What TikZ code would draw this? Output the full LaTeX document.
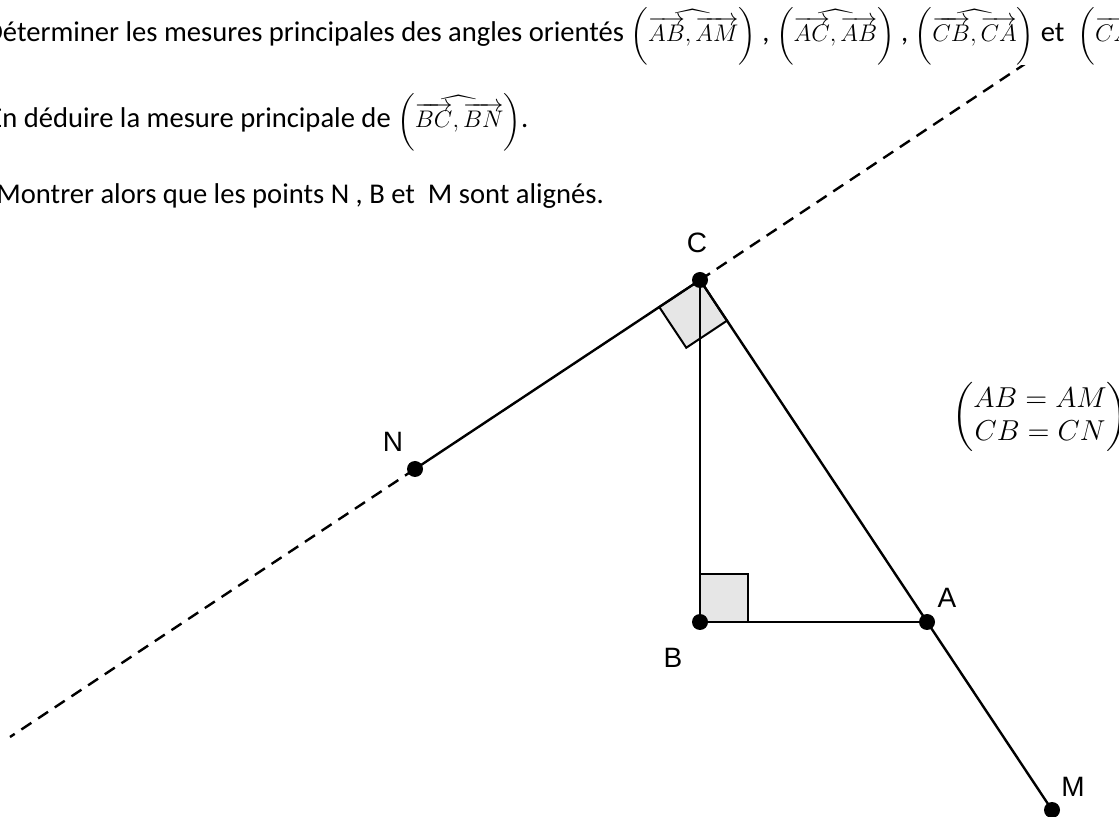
\documentclass[tikz,border=0pt]{standalone}
\usepackage{amsmath}
\usepackage{fontspec}
\setmainfont{Carlito}
\newfontfamily\labelfont{Liberation Sans}
\usepackage{tikz}
\usetikzlibrary{calc}
\definecolor{markx}{HTML}{E6E6E6}
\newcommand{\angor}[2]{{\fontsize{11.8}{14}\selectfont$\left(\widehat{\overrightarrow{#1},\overrightarrow{#2}}\right)$}}

\begin{document}
\begin{tikzpicture}[
  x=0.5pt, y=-0.5pt,
  seg/.style={line width=1.2pt, draw=black},
  ext/.style={line width=1.2pt, draw=black, dash pattern=on 6pt off 4pt},
  rmark/.style={draw=black, line width=1pt, fill=markx},
  dot/.style={circle, fill=black, inner sep=0pt, minimum size=8pt},
  lbl/.style={font=\labelfont\fontsize{14}{16}\selectfont, inner sep=0pt},
  txt/.style={anchor=base west, inner sep=0pt, font=\fontsize{14.3}{17}\selectfont},
]
\useasboundingbox (0,0) rectangle (1119,817);
\clip (0,0) rectangle (1119,817);

% points
\coordinate (C) at (700,280);
\coordinate (B) at (700,622);
\coordinate (A) at (927,622);
\coordinate (M) at (1052,810);
\coordinate (N) at (415,469);
\coordinate (endL) at (10,737);
\coordinate (endR) at (1043,52);

% right angle marks
\coordinate (Cu) at ($(C)!0.143!(N)$);
\coordinate (Cv) at ($(C)!0.119!(A)$);
\filldraw[rmark] (C) -- (Cu) -- ($(Cu)+(Cv)-(C)$) -- (Cv) -- cycle;
\filldraw[rmark] (B) -- ($(B)+(0,-48)$) -- ($(B)+(48,-48)$) -- ($(B)+(48,0)$) -- cycle;

% lines
\draw[ext] (N) -- (endL);
\draw[ext] (C) -- (endR);
\draw[seg] (N) -- (C);
\draw[seg] (C) -- (B);
\draw[seg] (B) -- (A);
\draw[seg] (C) -- (M);

% the statement
\node[txt, fill=white] (q1) at (-15,42) {Déterminer les mesures principales des angles orientés \angor{AB}{AM} ,\ \angor{AC}{AB} , \angor{CB}{CA} et\ \ \angor{CA}{CN}.};
\node[txt] (q2) at (-12,128) {En déduire la mesure principale de \angor{BC}{BN}.};
\node[txt] (q3) at (-4,204) {Montrer alors que les points N , B et\ \ M sont alignés.};

% dots and labels
\foreach \p in {A,B,C,M,N} \node[dot] (d\p) at (\p) {};
\node[lbl] (lC) at (697,243) {C};
\node[lbl] (lN) at (393,442) {N};
\node[lbl] (lB) at (673,658) {B};
\node[lbl] (lA) at (947,598) {A};
\node[lbl] (lM) at (1073,787) {M};

% hypothesis
\node[font=\fontsize{14}{16.5}\selectfont, inner sep=0pt] (hyp) at (1040,417) {$\biggl(\begin{matrix}AB=AM\\CB=CN\end{matrix}\biggr)$};
\end{tikzpicture}
\end{document}
